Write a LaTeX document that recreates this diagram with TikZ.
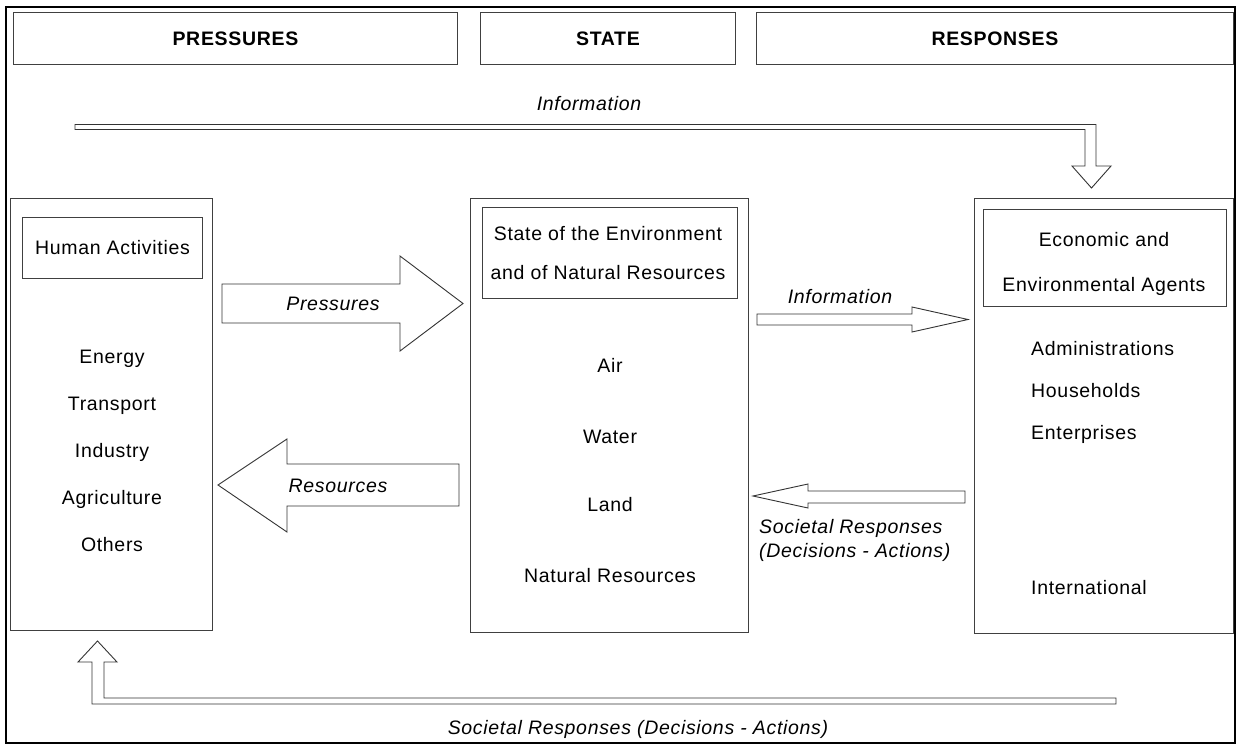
\documentclass[tikz,border=0pt]{standalone}
\usepackage{fontspec}
\setmainfont{Liberation Sans}[LetterSpace=3.5]
\begin{document}
\begin{tikzpicture}[x=1pt,y=-1pt,
  frame/.style={draw=black, line width=1.6pt},
  box/.style={draw=black!75, line width=0.9pt, inner sep=0pt, anchor=north west},
  blockarrow/.style={draw=black!80, line width=0.9pt, fill=white, line join=miter},
  lbl/.style={inner sep=0pt, text height=14pt, text depth=0pt, font=\fontsize{19.5}{23}\selectfont},
  ilbl/.style={lbl, font=\fontsize{19.5}{23}\selectfont\itshape},
  hdr/.style={lbl, font=\fontsize{19.5}{23}\selectfont\bfseries},
  item/.style={lbl, anchor=west}]
\useasboundingbox (0,0) rectangle (1239,747);
\fill[white] (0,0) rectangle (1239,747);

% outer frame
\node[frame, inner sep=0pt, anchor=north west, minimum width=1229pt, minimum height=736pt] (outer) at (5,6) {};

% column headers
\node[box, minimum width=444pt, minimum height=52pt] (hpress) at (13,12) {};
\node[box, minimum width=255pt, minimum height=52pt] (hstate) at (480,12) {};
\node[box, minimum width=477pt, minimum height=52pt] (hresp)  at (756,12) {};
\node[hdr] (tpress) at (hpress.center) {PRESSURES};
\node[hdr] (tstate) at (hstate.center) {STATE};
\node[hdr] (tresp)  at (hresp.center)  {RESPONSES};

% three main columns
\node[box, minimum width=202pt, minimum height=432pt] (human) at (10,198) {};
\node[box, minimum width=278pt, minimum height=434pt] (state) at (470,198) {};
\node[box, minimum width=259pt, minimum height=435pt] (agents) at (974,198) {};

% titles of the columns
\node[box, minimum width=180pt, minimum height=61pt] (humanT) at (22,217) {};
\node[lbl] (humanTt) at (humanT.center) {Human Activities};
\node[box, minimum width=255pt, minimum height=91pt] (stateT) at (482,207) {};
\node[lbl] (stateT1) at (608,233) {State of the Environment};
\node[lbl] (stateT2) at (608,272) {and of Natural Resources};
\node[box, minimum width=243pt, minimum height=97pt] (agentsT) at (983,209) {};
\node[lbl] (agentsT1) at (1104,239) {Economic and};
\node[lbl] (agentsT2) at (1104,284) {Environmental Agents};

% human activities
\node[lbl] (a1) at (112,356) {Energy};
\node[lbl] (a2) at (112,403) {Transport};
\node[lbl] (a3) at (112,450) {Industry};
\node[lbl] (a4) at (112,497) {Agriculture};
\node[lbl] (a5) at (112,544) {Others};

% environment
\node[lbl] (s1) at (610,365) {Air};
\node[lbl] (s2) at (610,436) {Water};
\node[lbl] (s3) at (610,504) {Land};
\node[lbl] (s4) at (610,575) {Natural Resources};

% agents
\node[item] (g1) at (1031,348) {Administrations};
\node[item] (g2) at (1031,390) {Households};
\node[item] (g3) at (1031,432) {Enterprises};
\node[item] (g4) at (1031,587) {International};

% information from pressures to responses
\draw[blockarrow] (75,124.5) -- (1096,124.5) -- (1096,166) -- (1111,166) -- (1091.5,188)
  -- (1072,166) -- (1085,166) -- (1085,129.5) -- (75,129.5) -- cycle;
\node[ilbl] (infoTop) at (589,103) {Information};

% pressures
\draw[blockarrow] (222,284) -- (400,284) -- (400,256) -- (463,303.5) -- (400,351)
  -- (400,323) -- (222,323) -- cycle;
\node[ilbl] (lpress) at (333,303) {Pressures};

% resources
\draw[blockarrow] (459,464) -- (287,464) -- (287,439) -- (218,485) -- (287,532)
  -- (287,506) -- (459,506) -- cycle;
\node[ilbl] (lres) at (338,485) {Resources};

% information from state to agents
\draw[blockarrow] (757,314) -- (912,314) -- (912,307) -- (968,319.5) -- (912,332)
  -- (912,325) -- (757,325) -- cycle;
\node[ilbl] (linfo) at (840,296) {Information};

% societal responses back to state
\draw[blockarrow] (965,491) -- (808,491) -- (808,484) -- (753,496) -- (808,508)
  -- (808,503) -- (965,503) -- cycle;
\node[ilbl, anchor=west] (lsoc1) at (759,526) {Societal Responses};
\node[ilbl, anchor=west] (lsoc2) at (759,550) {(Decisions - Actions)};

% societal responses back to human activities
\draw[blockarrow] (1116,698) -- (1116,704) -- (92,704) -- (92,662) -- (78,662)
  -- (97.5,641) -- (117,662) -- (104,662) -- (104,698) -- cycle;
\node[ilbl] (lsocB) at (638,727) {Societal Responses (Decisions - Actions)};
\end{tikzpicture}
\end{document}
